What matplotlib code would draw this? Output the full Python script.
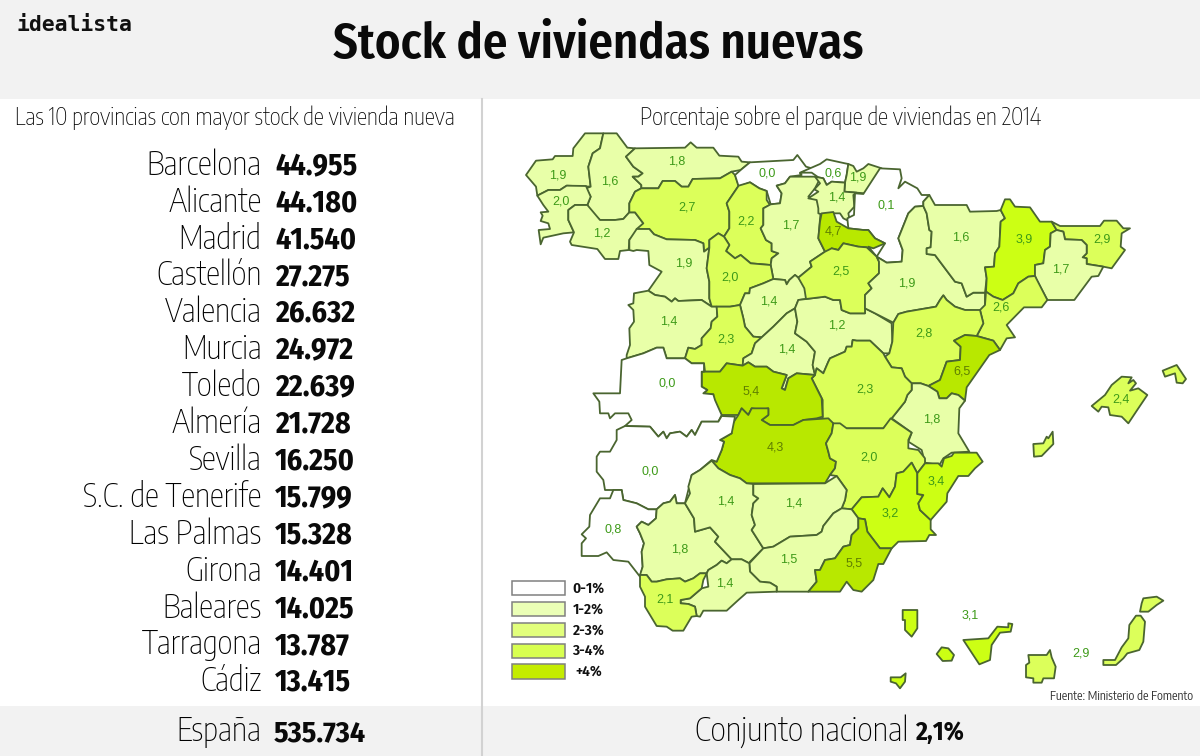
import matplotlib
matplotlib.use("Agg")
import matplotlib.pyplot as plt
from matplotlib.patches import Polygon, Rectangle

# ---------- left-hand table ----------
TOP_PROVINCES = ["Barcelona", "Alicante", "Madrid", "Castellón", "Valencia", "Murcia", "Toledo", "Almería",
                 "Sevilla", "S.C. de Tenerife", "Las Palmas", "Girona", "Baleares", "Tarragona", "Cádiz"]
TOP_STOCK = ["44.955", "44.180", "41.540", "27.275", "26.632", "24.972", "22.639", "21.728",
             "16.250", "15.799", "15.328", "14.401", "14.025", "13.787", "13.415"]
TOTAL_LABEL = "España"
TOTAL_STOCK = "535.734"
NATIONAL_LABEL = "Conjunto nacional"
NATIONAL_SHARE = "2,1%"
TITLE = "Stock de viviendas nuevas"
SUB_LEFT = "Las 10 provincias con mayor stock de vivienda nueva"
SUB_RIGHT = "Porcentaje sobre el parque de viviendas en 2014"
SOURCE = "Fuente: Ministerio de Fomento"
LEGEND_LABELS = ["0-1%", "1-2%", "2-3%", "3-4%", "+4%"]
LEGEND_COLORS = ["#ffffff", "#ebffb6", "#e2ff7c", "#d8ff50", "#c4ec00"]
CLASS_COLORS = ["#ffffff", "#e8ffa8", "#dcff5a", "#ccff14", "#b8e800"]

# ---------- map: share of housing stock per province ----------
# Outline vertices were read off the reference, in crop pixels (3x) of a view.
VIEWS = {"a": (500, 125), "b": (830, 150), "c": (500, 400), "d": (880, 570), "e": (785, 150), "f": (840, 440)}

OUTLINES = {
"A Coruña": ("a", [(78,150),(108,107),(158,103),(165,93),(218,93),(220,70),(255,25),(310,25),(300,70),(278,85),(265,125),(272,185),(200,182),(180,195),(145,195),(112,212),(108,185)]),
"Lugo": ("a", [(310,25),(350,25),(382,68),(405,70),(378,95),(400,125),(428,145),(415,155),(398,155),(424,180),(424,190),(405,200),(388,235),(388,262),(370,282),(345,285),(300,285),(270,258),(262,240),(272,215),(258,190),(272,185),(265,125),(278,85),(300,70)]),
"Pontevedra": ("a", [(112,212),(145,195),(180,195),(200,182),(258,183),(272,215),(262,240),(225,240),(205,255),(205,285),(222,322),(190,325),(130,338),(122,358),(116,315),(150,312),(145,295),(122,288),(128,272),(122,262),(145,260),(130,240)]),
"Ourense": ("a", [(205,255),(225,240),(262,240),(300,285),(345,285),(370,282),(388,262),(405,262),(430,295),(388,345),(386,375),(360,378),(355,402),(315,402),(292,372),(215,360),(210,350),(222,322),(205,285)]),
"Asturias": ("a", [(405,70),(555,68),(572,52),(590,68),(640,68),(658,92),(715,95),(725,110),(750,112),(722,135),(695,140),(660,160),(578,162),(565,185),(545,185),(525,168),(488,168),(475,190),(424,190),(424,180),(398,155),(415,155),(428,145),(400,125),(378,95)]),
"León": ("a", [(424,190),(475,190),(488,168),(525,168),(545,185),(565,185),(578,162),(660,160),(695,140),(705,150),(716,182),(680,235),(688,260),(688,310),(672,335),(655,325),(628,345),(628,368),(612,380),(610,355),(585,345),(500,343),(462,328),(448,312),(410,312),(430,295),(405,262),(388,262),(388,235),(405,200)]),
"Cantabria": ("a", [(705,150),(722,135),(750,112),(880,105),(892,90),(918,125),(935,130),(900,145),(905,150),(870,155),(855,175),(830,182),(845,205),(840,235),(812,238),(800,198),(778,190),(750,172),(716,185)]),
"Palencia": ("a", [(716,182),(750,172),(778,190),(800,198),(800,225),(810,240),(790,250),(790,300),(782,310),(798,345),(815,355),(815,378),(835,385),(815,400),(812,420),(752,415),(722,390),(705,400),(678,378),(688,360),(672,335),(688,310),(688,260),(680,235)]),
"Burgos": ("a", [(812,238),(840,235),(845,205),(830,182),(855,175),(870,155),(945,155),(958,165),(945,190),(925,215),(950,222),(962,260),(955,340),(975,380),(930,410),(935,425),(895,458),(885,450),(868,465),(860,478),(855,465),(820,462),(812,420),(815,400),(835,385),(815,378),(815,355),(798,345),(782,310),(790,300),(790,250)]),
"Vizcaya": ("e", [(45,68),(75,55),(105,42),(125,28),(180,40),(190,42),(185,75),(180,98),(140,95),(125,105),(115,85),(100,82),(80,68)]),
"Gipuzkoa": ("e", [(190,42),(205,48),(215,65),(235,55),(250,42),(290,55),(270,85),(240,130),(215,128),(178,125),(180,98),(185,75)]),
"Álava": ("e", [(70,145),(100,125),(88,118),(105,100),(90,80),(100,82),(115,85),(125,105),(140,95),(180,98),(178,125),(215,128),(205,135),(208,170),(190,190),(195,215),(175,205),(165,190),(130,190),(118,195),(100,190),(100,175),(95,150)]),
"Navarra": ("b", [(75,130),(100,132),(150,55),(210,58),(215,85),(205,115),(225,95),(262,115),(275,135),(298,135),(280,155),(280,168),(255,170),(235,190),(215,240),(205,265),(218,300),(215,335),(170,338),(140,320),(165,280),(135,265),(115,240),(100,240),(55,235),(52,205),(72,195)]),
"La Rioja": ("b", [(-35,265),(-30,215),(-25,190),(10,186),(20,215),(55,235),(100,240),(115,240),(135,265),(165,280),(130,295),(115,290),(140,320),(110,292),(85,290),(40,280),(25,300),(5,295),(-5,305),(-15,305)]),
"Zamora": ("a", [(388,345),(410,312),(448,312),(462,328),(500,343),(585,345),(610,355),(612,380),(628,368),(620,430),(628,470),(628,520),(635,545),(605,525),(535,528),(525,520),(515,530),(495,515),(465,510),(445,497),(485,440),(448,420),(445,378),(410,375),(400,378),(388,375)]),
"Valladolid": ("a", [(628,345),(655,325),(672,335),(688,360),(678,378),(705,400),(722,390),(752,415),(812,420),(820,462),(790,475),(750,490),(748,505),(735,505),(720,540),(690,545),(650,545),(635,545),(628,520),(628,470),(620,430),(628,368)]),
"Segovia": ("a", [(720,540),(735,505),(748,505),(750,490),(790,475),(820,462),(855,465),(860,478),(868,465),(885,450),(895,458),(918,490),(918,522),(895,525),(885,550),(860,565),(820,605),(785,637),(760,635),(735,605),(730,580)]),
"Salamanca": ("a", [(385,540),(400,535),(402,505),(445,497),(465,510),(495,515),(515,530),(525,520),(535,528),(605,525),(635,545),(650,545),(652,575),(635,590),(632,610),(605,640),(605,660),(585,672),(565,668),(555,700),(500,700),(490,668),(470,668),(430,685),(380,700),(380,690),(390,660),(388,610),(402,590),(400,555)]),
"Ávila": ("a", [(650,545),(690,545),(720,540),(730,580),(735,605),(760,635),(785,637),(765,655),(755,685),(730,700),(728,722),(680,715),(660,740),(615,740),(612,715),(575,715),(555,700),(565,668),(585,672),(605,660),(605,640),(632,610),(635,590),(652,575)]),
"Madrid": ("a", [(728,722),(730,700),(755,685),(765,655),(785,637),(820,605),(860,565),(885,550),(892,590),(885,625),(920,650),(945,680),(938,720),(945,750),(890,745),(865,760),(855,795),(845,790),(860,750),(820,740),(800,725),(765,725),(745,712)]),
"Guadalajara": ("b", [(-95,450),(-72,447),(-15,440),(10,450),(30,450),(35,480),(60,490),(105,490),(105,475),(135,490),(185,520),(187,575),(178,610),(160,610),(120,572),(80,572),(68,570),(65,590),(50,590),(45,605),(0,625),(-5,635),(-20,670),(-40,655),(-45,675),(-52,645),(-45,605),(-70,575),(-105,550),(-98,515),(-105,475)]),
"Soria": ("b", [(-95,383),(-55,350),(-60,335),(-15,305),(5,295),(25,300),(40,280),(85,290),(110,292),(140,320),(147,335),(147,370),(115,400),(125,415),(105,435),(105,490),(60,490),(35,480),(30,450),(10,450),(-15,440),(-72,447),(-77,415)]),
"Zaragoza": ("b", [(140,320),(170,338),(215,335),(218,300),(205,265),(215,240),(235,190),(255,170),(280,168),(290,190),(298,240),(305,245),(302,292),(290,295),(290,312),(315,315),(375,395),(395,400),(410,440),(430,428),(465,428),(465,482),(405,480),(375,470),(350,450),(340,436),(330,450),(318,470),(230,485),(205,492),(190,518),(135,490),(105,475),(105,435),(125,415),(115,400),(147,370),(147,335)]),
"Huesca": ("b", [(280,168),(280,155),(298,135),(315,165),(410,165),(420,185),(500,183),(512,180),(525,205),(512,215),(508,290),(495,310),(492,350),(465,352),(470,385),(465,428),(430,428),(410,440),(395,400),(375,395),(315,315),(290,312),(290,295),(302,292),(305,245),(298,240),(290,190)]),
"Lleida": ("b", [(512,180),(525,148),(540,148),(555,170),(600,172),(630,215),(665,215),(680,240),(662,250),(660,290),(645,300),(640,340),(615,345),(615,378),(595,380),(565,400),(550,430),(518,450),(490,440),(468,425),(470,385),(465,352),(492,350),(495,310),(508,290),(512,215),(525,205)]),
"Girona": ("b", [(665,215),(690,228),(810,228),(822,212),(860,212),(880,235),(900,235),(875,250),(872,290),(885,300),(845,355),(820,350),(770,342),(770,325),(758,322),(770,310),(770,285),(755,270),(705,268),(700,245),(680,240)]),
"Barcelona": ("b", [(680,240),(700,245),(705,268),(755,270),(770,285),(770,310),(758,322),(770,325),(770,342),(820,350),(805,378),(785,380),(733,450),(652,450),(620,390),(615,378),(615,345),(640,340),(645,300),(660,290),(662,250)]),
"Tarragona": ("b", [(468,425),(490,440),(518,450),(550,430),(565,400),(595,380),(615,378),(652,450),(635,472),(582,472),(530,525),(555,562),(530,565),(510,600),(490,572),(440,558),(460,520),(450,480),(465,465)]),
"Teruel": ("b", [(190,518),(205,492),(230,485),(318,470),(330,450),(340,436),(350,450),(375,470),(405,480),(450,480),(460,520),(440,558),(405,555),(372,572),(392,590),(390,630),(350,635),(330,690),(295,708),(272,700),(245,700),(225,680),(215,655),(185,652),(165,620),(178,610),(187,575)]),
"Castellón": ("b", [(372,572),(405,555),(440,558),(490,572),(510,600),(478,615),(410,712),(405,752),(385,735),(365,730),(350,745),(328,745),(322,725),(295,708),(330,690),(350,635),(390,630),(392,590)]),
"Valencia": ("b", [(245,700),(272,700),(295,708),(322,725),(328,745),(350,745),(365,730),(385,735),(405,752),(388,775),(385,850),(418,905),(365,908),(340,925),(328,945),(285,938),(275,900),(235,875),(245,848),(185,805),(225,755),(232,735),(245,720)]),
"Cuenca": ("b", [(-45,675),(-40,655),(-20,670),(-5,635),(0,625),(45,605),(50,590),(65,590),(68,570),(80,572),(120,572),(160,610),(165,620),(185,652),(215,655),(225,680),(245,700),(245,720),(232,735),(225,755),(185,805),(160,835),(40,835),(30,822),(10,838),(-15,838),(-22,825),(-22,750),(-55,685)]),
"Toledo": ("a", [(605,740),(660,740),(680,715),(728,722),(745,712),(765,725),(800,725),(820,740),(860,750),(845,790),(855,795),(865,760),(890,745),(945,750),(935,760),(965,820),(968,875),(950,880),(910,885),(880,900),(810,900),(785,885),(805,870),(805,850),(785,855),(755,850),(745,870),(725,850),(715,870),(665,870),(640,825),(640,808),(610,805),(622,795),(605,785)]),
"Ciudad Real": ("c", [(650,185),(665,150),(672,125),(660,120),(695,100),(690,85),(705,60),(715,45),(725,25),(745,45),(755,25),(805,25),(805,45),(785,60),(810,75),(880,75),(910,60),(985,55),(1000,70),(995,100),(978,130),(985,155),(990,175),(1008,185),(1005,205),(990,225),(975,250),(740,250),(720,235),(690,225),(655,205),(635,182)]),
"Albacete": ("c", [(1000,70),(1020,70),(1040,85),(1150,85),(1172,55),(1235,98),(1225,120),(1225,145),(1255,150),(1275,175),(1275,190),(1252,220),(1235,188),(1210,215),(1190,220),(1185,260),(1168,292),(1148,265),(1135,290),(1085,292),(1055,328),(1025,325),(1035,300),(1040,270),(1010,228),(990,225),(1005,205),(1008,185),(990,175),(985,155),(978,130),(995,100)]),
"Murcia": ("f", [(35,208),(65,172),(115,170),(128,145),(148,172),(165,140),(170,100),(190,95),(215,68),(232,100),(232,162),(250,165),(235,190),(240,210),(272,240),(272,268),(288,285),(268,285),(258,303),(175,305),(155,325),(120,325),(82,275),(75,238),(55,235)]),
"Alicante": ("f", [(232,100),(255,70),(295,70),(305,80),(312,55),(335,48),(342,38),(410,38),(428,65),(405,85),(385,108),(355,108),(322,160),(320,185),(272,240),(240,210),(235,190),(250,165),(232,162)]),
"Cáceres": ("a", [(380,700),(430,685),(470,668),(490,668),(500,700),(555,700),(575,715),(612,715),(612,740),(605,740),(605,785),(622,795),(610,805),(640,808),(645,825),(665,870),(655,890),(605,890),(585,930),(575,915),(560,935),(540,920),(510,925),(500,940),(490,920),(475,935),(450,905),(375,903),(395,885),(385,865),(345,865),(330,880),(325,865),(300,865),(298,830),(280,805),(360,805),(365,705)]),
"Badajoz": ("c", [(375,78),(450,80),(475,110),(490,95),(500,115),(510,100),(540,95),(560,110),(575,90),(585,105),(605,65),(655,65),(665,48),(705,50),(695,100),(660,120),(672,125),(665,150),(650,185),(635,180),(600,210),(575,225),(570,250),(555,310),(530,310),(525,285),(510,305),(490,310),(470,328),(445,328),(410,310),(370,300),(365,270),(315,270),(310,240),(290,215),(290,170),(300,155),(330,155),(350,120),(350,90)]),
"Huelva": ("c", [(340,270),(365,270),(370,300),(410,310),(445,328),(470,328),(468,355),(445,375),(425,365),(410,380),(420,400),(432,430),(425,455),(428,500),(420,530),(385,485),(340,480),(320,457),(295,468),(245,468),(245,430),(258,415),(245,403),(268,380),(270,345),(300,295),(330,295)]),
"Sevilla": ("c", [(470,328),(490,310),(510,305),(525,285),(530,310),(555,310),(582,355),(585,395),(630,382),(655,410),(645,425),(695,478),(680,490),(665,482),(650,495),(625,510),(620,520),(600,520),(580,535),(555,545),(540,535),(500,538),(470,545),(455,545),(440,525),(420,525),(428,500),(425,455),(432,430),(420,400),(410,380),(425,365),(445,375),(468,355)]),
"Córdoba": ("c", [(555,310),(570,280),(565,260),(575,225),(600,210),(635,182),(655,205),(690,225),(720,235),(740,250),(760,252),(760,285),(775,295),(760,310),(755,345),(765,375),(755,390),(790,445),(750,485),(748,490),(725,478),(695,478),(645,425),(655,410),(630,382),(585,395),(582,355)]),
"Jaén": ("c", [(760,252),(975,250),(1010,228),(1040,270),(1035,300),(1025,325),(1000,340),(970,378),(965,395),(950,405),(870,410),(820,440),(790,445),(755,390),(765,375),(755,345),(760,310),(775,295),(760,285)]),
"Granada": ("c", [(790,445),(820,440),(870,410),(950,405),(965,395),(970,378),(1000,340),(1025,325),(1055,328),(1075,355),(1075,385),(1055,405),(1050,435),(1030,440),(1005,475),(975,480),(960,510),(945,510),(950,545),(925,575),(830,575),(830,560),(810,548),(780,545),(750,515),(748,490)]),
"Almería": ("c", [(1075,355),(1095,358),(1102,395),(1140,445),(1175,445),(1150,492),(1135,492),(1120,540),(1085,575),(1060,570),(1040,545),(1020,575),(925,575),(950,545),(945,510),(960,510),(975,480),(1005,475),(1030,440),(1050,435),(1055,405),(1075,385)]),
"Málaga": ("c", [(695,478),(725,478),(748,490),(750,515),(780,545),(810,548),(830,560),(830,575),(740,578),(715,600),(680,632),(610,632),(600,650),(590,648),(585,620),(565,612),(542,610),(542,600),(570,595),(605,565),(625,560),(620,520),(625,510),(650,495),(665,482),(680,490)]),
"Cádiz": ("c", [(420,525),(440,525),(455,545),(470,545),(500,538),(540,535),(555,545),(580,535),(600,520),(620,520),(610,540),(605,565),(570,595),(542,600),(542,610),(565,612),(585,620),(590,648),(575,650),(550,692),(518,692),(500,680),(470,678),(435,620),(435,590),(420,560)]),
"Mallorca": ("b", [(785,768),(825,735),(845,705),(875,680),(905,682),(895,700),(910,690),(918,700),(900,722),(925,715),(952,735),(925,775),(895,820),(875,800),(840,795),(835,772),(815,770),(805,785)]),
"Menorca": ("b", [(998,662),(1040,645),(1068,687),(1058,700),(1040,698),(1035,670),(1005,680)]),
"Ibiza": ("b", [(610,882),(640,880),(650,860),(655,865),(668,845),(670,882),(635,918),(612,920)]),
"La Palma": ("d", [(68,120),(112,120),(112,175),(95,200),(75,180),(75,150),(68,150)]),
"La Gomera": ("d", [(170,252),(185,232),(205,235),(222,255),(215,272),(188,273)]),
"Tenerife": ("d", [(250,210),(325,205),(352,170),(385,172),(385,160),(397,162),(392,185),(360,188),(335,225),(330,270),(298,283)]),
"El Hierro": ("d", [(32,322),(62,322),(77,310),(75,335),(60,355),(48,340),(32,335)]),
"Gran Canaria": ("d", [(445,255),(500,255),(510,240),(515,262),(527,290),(522,325),(490,325),(485,338),(460,338),(460,325),(438,322),(438,285),(448,278)]),
"Fuerteventura": ("d", [(670,270),(705,270),(725,232),(745,205),(748,165),(768,137),(782,137),(795,155),(790,215),(778,240),(742,250),(730,265),(708,285),(670,285)]),
"Lanzarote": ("d", [(790,85),(830,80),(850,92),(830,105),(805,125),(780,125),(785,100)]),
}

# province -> colour class index in the reference
SHAPE_CLASS = {
"A Coruña":1,"Lugo":1,"Pontevedra":1,"Ourense":1,"Asturias":1,"León":2,"Cantabria":0,"Palencia":2,"Burgos":1,"Vizcaya":0,"Gipuzkoa":1,"Álava":1,
"Navarra":0,"La Rioja":4,"Zamora":1,"Valladolid":2,"Segovia":1,"Salamanca":1,"Ávila":2,"Madrid":1,"Guadalajara":1,"Soria":2,"Zaragoza":1,"Huesca":1,
"Lleida":3,"Girona":2,"Barcelona":1,"Tarragona":2,"Teruel":2,"Castellón":4,"Valencia":1,"Cuenca":2,"Toledo":4,"Ciudad Real":4,"Albacete":2,"Murcia":3,
"Alicante":3,"Cáceres":0,"Badajoz":0,"Huelva":0,"Sevilla":1,"Córdoba":1,"Jaén":1,"Granada":1,"Almería":4,"Málaga":1,"Cádiz":2,
"Mallorca":2,"Menorca":2,"Ibiza":2,"La Palma":3,"La Gomera":3,"Tenerife":3,"El Hierro":3,"Gran Canaria":2,"Fuerteventura":2,"Lanzarote":2}

VALUE_LABELS = ["1,9","1,6","1,8","0,0","0,6","1,9","0,1","2,0","1,2","2,7","2,2","1,7","1,4","4,7","1,6","3,9","2,9","1,7",
                "1,9","2,0","1,4","2,5","1,9","2,6","1,4","2,3","1,4","1,2","2,8","6,5","0,0","5,4","2,3","1,8","2,4","0,0",
                "4,3","2,0","3,4","3,2","1,4","1,4","0,8","1,8","1,5","5,5","1,4","2,1","3,1","2,9"]
VALUE_X = [558,610,677,767,833,858,886,561,602,687,746,791,837,833,961,1024,1102,1061,684,730,769,841,907,1001,669,726,787,837,924,962,667,751,865,932,1121,650,775,869,936,890,726,794,613,680,789,854,725,665,970,1081]
VALUE_Y = [175,181,162,174,173,177,206,202,233,207,221,225,198,232,238,239,240,270,264,277,301,271,284,308,322,340,350,326,333,371,383,391,389,420,400,472,447,458,481,514,501,504,529,549,560,563,583,600,615,653]

LIGHT = ["Encode Sans Condensed", "Open Sans", "DejaVu Sans"]
BOLD = ["Fira Sans Condensed", "Open Sans", "DejaVu Sans"]
GREY_BAND = "#f2f2f2"
EDGE = "#4a6530"

fig = plt.figure(figsize=(12, 7.56), dpi=100)
ax = fig.add_axes([0, 0, 1, 1])
ax.set_xlim(0, 1200)
ax.set_ylim(756, 0)
ax.axis("off")

# bands and divider
ax.add_patch(Rectangle((0, 0), 1200, 99, fc=GREY_BAND, ec="none", zorder=0))
ax.add_patch(Rectangle((0, 706), 1200, 50, fc=GREY_BAND, ec="none", zorder=0))
ax.plot([481.5, 481.5], [99, 756], color="#d2d2d2", lw=1.5, zorder=1)

# header
ax.text(16, 25, "idealista", family="DejaVu Sans Mono", weight="bold", fontsize=15.4, va="center", ha="left", color="#111111")
ax.text(598, 45, TITLE, family=BOLD, weight="semibold", fontsize=35, va="center", ha="center", color="#0a0a0a")
ax.text(234.5, 117.5, SUB_LEFT, family=LIGHT, weight="light", fontsize=16.8, va="center", ha="center", color="#000000")
ax.text(840.5, 117.5, SUB_RIGHT, family=LIGHT, weight="light", fontsize=16.8, va="center", ha="center", color="#000000")

# ranking
for i, (name, stock) in enumerate(zip(TOP_PROVINCES, TOP_STOCK)):
    y = 164 + i * 36.9
    ax.text(261.5, y + 1, name, family=LIGHT, weight="light", fontsize=23.3, va="center", ha="right", color="#000000")
    ax.text(275, y + 2, stock, family=BOLD, weight="bold", fontsize=21.6, va="center", ha="left", color="#0a0a0a")

# bottom band
ax.text(261.5, 731.5, TOTAL_LABEL, family=LIGHT, weight="light", fontsize=23.4, va="center", ha="right", color="#000000")
ax.text(274, 733, TOTAL_STOCK, family=BOLD, weight="bold", fontsize=21.5, va="center", ha="left", color="#0a0a0a")
ax.text(908, 731.5, NATIONAL_LABEL, family=LIGHT, weight="light", fontsize=24, va="center", ha="right", color="#000000")
ax.text(915, 733, NATIONAL_SHARE, family=BOLD, weight="bold", fontsize=18.5, va="center", ha="left", color="#0a0a0a")

# map
for name, (view, pts) in OUTLINES.items():
    ox, oy = VIEWS[view]
    xy = [(ox + px / 3, oy + py / 3) for px, py in pts]
    ax.add_patch(Polygon(xy, closed=True, fc=CLASS_COLORS[SHAPE_CLASS[name]], ec=EDGE, lw=1.3, joinstyle="round", zorder=2))

for label, x, y in zip(VALUE_LABELS, VALUE_X, VALUE_Y):
    high = float(label.replace(",", ".")) >= 4
    ax.text(x, y, label, family="Liberation Sans", fontsize=9, va="center", ha="center",
            color="#5f7f00" if high else "#3d9a18", zorder=3)

# legend
for i, (label, colour) in enumerate(zip(LEGEND_LABELS, LEGEND_COLORS)):
    y = 581 + i * 20.85
    ax.add_patch(Rectangle((511.7, y), 53.3, 14.2, fc=colour, ec="#808080", lw=1.1, zorder=2))
    ax.text(588.5, y + 7.5, label, family=BOLD, weight="semibold", fontsize=11, va="center", ha="center", color="#111111")

ax.text(1193, 697, SOURCE, family=LIGHT, weight="normal", fontsize=8.8, va="center", ha="right", color="#333333")

fig.savefig("out.png", dpi=100)
